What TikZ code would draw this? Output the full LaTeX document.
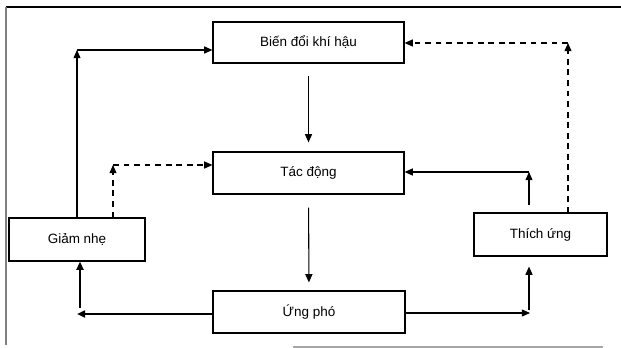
\documentclass[tikz,border=0pt]{standalone}
\usepackage{fontspec}
\setmainfont{Liberation Sans}
\usetikzlibrary{positioning,arrows.meta}
\tikzstyle{box} = [draw, line width=1pt, inner sep=0pt, font=\fontsize{11.5}{13}\selectfont]
\tikzstyle{arrow} = [-{Triangle[length=7pt,width=6pt]}, line width=0.9pt]
\tikzstyle{heavy} = [arrow, line width=1.7pt]
\tikzstyle{dasharrow} = [arrow, dash pattern=on 5pt off 4pt]

\begin{document}
\begin{tikzpicture}[x=0.03cm, y=-0.03cm]
  \useasboundingbox (0,0) rectangle (621,348);
  % frame
  \draw[line width=1.1pt] (6,7) -- (621,7);
  \draw[gray, line width=1pt] (6,7) -- (6,345);
  \draw[gray!70, line width=1pt] (293,347) -- (603,347);

  \node[box, minimum width=5.73cm, minimum height=1.23cm] (bien) at (308.5,42.5) {Biến đổi khí hậu};
  \node[box, minimum width=5.73cm, minimum height=1.26cm] (tac) at (308.5,173) {Tác động};
  \node[box, minimum width=5.76cm, minimum height=1.26cm] (ung) at (309,312) {Ứng phó};
  \node[box, minimum width=4.08cm, minimum height=1.29cm] (giam) at (77,239.5) {Giảm nhẹ};
  \node[box, minimum width=3.99cm, minimum height=1.29cm] (thich) at (540.5,234.5) {Thích ứng};

  \draw[arrow, shorten <=0.36cm, shorten >=0.27cm] (bien) -- (tac);
  \draw[arrow, shorten <=0.39cm, shorten >=0.24cm] (tac) -- (ung);

  % left side
  \coordinate (gtop) at (77,50);
  \draw[arrow] (giam.north) -- (gtop);
  \draw[arrow] (gtop) -- (bien.west |- gtop);
  \coordinate (gdash) at (113,165);
  \draw[dasharrow] (giam.north -| gdash) -- (gdash);
  \draw[dasharrow] (gdash) -- (tac.west |- gdash);
  \coordinate (ul) at (77,314);
  \coordinate (ulup) at (80,308);
  \draw[heavy] (ung.west |- ul) -- (ul);
  \draw[heavy] (ulup) -- (ulup |- giam.south);

  % right side
  \coordinate (ur) at (530,313);
  \coordinate (urup) at (529,310);
  \draw[arrow] (ung.east |- ur) -- (ur);
  \draw[arrow, shorten >=0.3cm] (urup) -- (urup |- thich.south);
  \coordinate (tr) at (529,172);
  \coordinate (trlow) at (529,205);
  \draw[arrow] (trlow) -- (tr);
  \draw[arrow] (tr) -- (tac.east |- tr);
  \coordinate (dr) at (568,43);
  \draw[dasharrow] (thich.north -| dr) -- (dr);
  \draw[dasharrow] (dr) -- (bien.east |- dr);
\end{tikzpicture}
\end{document}
